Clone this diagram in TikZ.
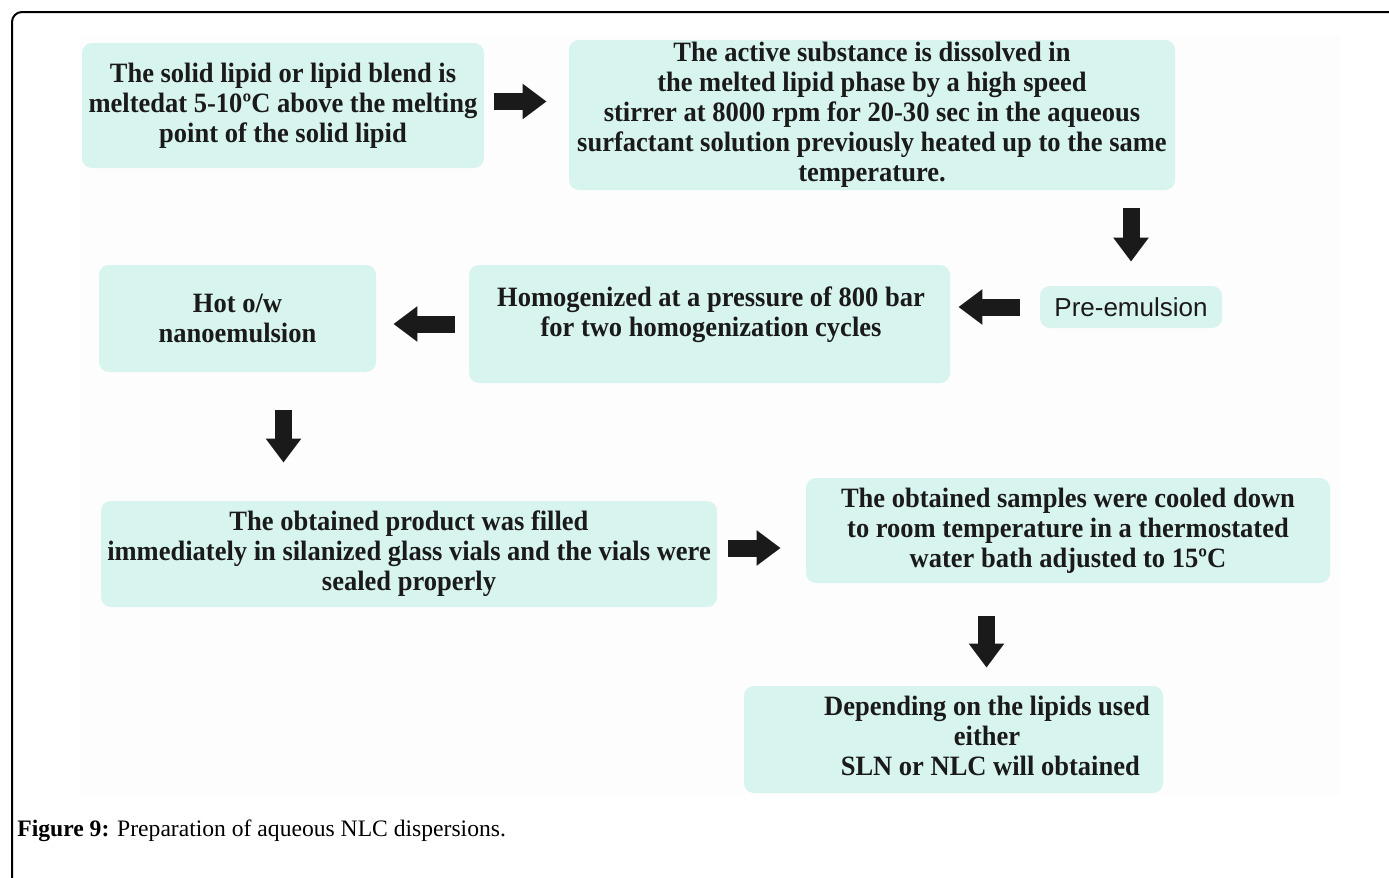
\documentclass[tikz,border=0pt]{standalone}
\usepackage{fontspec}
\setmainfont{Liberation Serif}
\newfontfamily\stepfont[FakeStretch=0.947]{Liberation Serif}
\newfontfamily\prefont{Liberation Sans}
\definecolor{StepMint}{HTML}{D8F4EE}
\definecolor{StepInk}{HTML}{1A1A1A}
\definecolor{PanelGrey}{HTML}{FDFDFD}
\usetikzlibrary{arrows.meta}

\tikzset{
  stepbox/.style={
    fill=StepMint,
    draw=none,
    rounded corners=5pt,
    inner sep=0pt,
    align=center,
    text=StepInk,
    font=\fontsize{14pt}{15pt}\stepfont\bfseries
  },
  steptext/.style={
    inner sep=0pt,
    align=center,
    text=StepInk,
    font=\fontsize{14pt}{15pt}\stepfont\bfseries
  },
  flow/.style={
    draw=StepInk,
    line width=8.5pt,
    -{Triangle[length=12pt,width=17pt]}
  }
}

\begin{document}
\begin{tikzpicture}[x=0.5pt,y=-0.5pt]
    \useasboundingbox (0,0) rectangle (1389,878);
    % outer frame and figure panel
    \draw[line width=1pt, rounded corners=5pt] (12,878) |- (1389,12);
    \fill[PanelGrey] (80,35) rectangle (1340,795);

    % steps
    \node[stepbox, minimum width=201pt, minimum height=62.5pt] (melt) at (283,105.5) {%
      The solid lipid or lipid blend is\\
      meltedat 5-10ºC above the melting\\
      point of the solid lipid};
    \node[stepbox, minimum width=303pt, minimum height=75pt] (dissolve) at (872,115) {%
      The active substance is dissolved in\\
      the melted lipid phase by a high speed\\
      stirrer at 8000 rpm for 20-30 sec in the aqueous\\
      surfactant solution previously heated up to the same\\
      temperature.};
    \node[stepbox, minimum width=91pt, minimum height=21pt,
          font=\fontsize{13pt}{15pt}\selectfont\prefont] (preemul) at (1131,307) {Pre-emulsion};
    \node[stepbox, minimum width=240.5pt, minimum height=59pt] (homog) at (709.5,324) {};
    \node[steptext] (homogtxt) at (711,315) {%
      Homogenized at a pressure of 800 bar\\
      for two homogenization cycles};
    \node[stepbox, minimum width=138.5pt, minimum height=53.5pt] (hotnano) at (237.5,318.5) {%
      Hot o/w\\
      nanoemulsion};
    \node[stepbox, minimum width=308pt, minimum height=53pt] (filled) at (409,554) {%
      The obtained product was filled\\
      immediately in silanized glass vials and the vials were\\
      sealed properly};
    \node[stepbox, minimum width=262pt, minimum height=52.5pt] (cooled) at (1068,530.5) {%
      The obtained samples were cooled down\\
      to room temperature in a thermostated\\
      water bath adjusted to 15ºC};
    \node[stepbox, minimum width=209.5pt, minimum height=53.5pt] (result) at (953.5,739.5) {};
    \node[steptext] (resulttxt) at (987,736) {%
      Depending on the lipids used\\
      either\\
      \ SLN or NLC will obtained};

    % block arrows
    \draw[flow, shorten <=5pt, shorten >=11pt] ([yshift=2pt]melt.east) -- ([yshift=2pt]melt.east -| dissolve.west);
    \draw[flow, shorten <=9pt, shorten >=12pt] (preemul.north |- dissolve.south) -- (preemul.north);
    \draw[flow, shorten <=10pt, shorten >=4pt] (preemul.west) -- (preemul.west -| homog.east);
    \draw[flow, shorten <=7pt, shorten >=8.5pt] (homog.west) -- (homog.west -| hotnano.east);
    \draw[flow, shorten <=19pt, shorten >=19pt] ([xshift=23pt]hotnano.south) -- ([xshift=23pt]hotnano.south |- filled.north);
    \draw[flow, shorten <=5.5pt, shorten >=12.5pt] ([yshift=3pt]filled.east) -- ([yshift=3pt]filled.east -| cooled.west);
    \draw[flow, shorten <=16.5pt, shorten >=9pt] ([xshift=16.5pt]result.north |- cooled.south) -- ([xshift=16.5pt]result.north);

    % caption
    \node[anchor=base west, inner sep=0pt, text=black,
          font=\fontsize{11.8pt}{13pt}\selectfont] (caption) at (17,836) {%
      \textbf{Figure 9:} Preparation of aqueous NLC dispersions.};
\end{tikzpicture}
\end{document}
